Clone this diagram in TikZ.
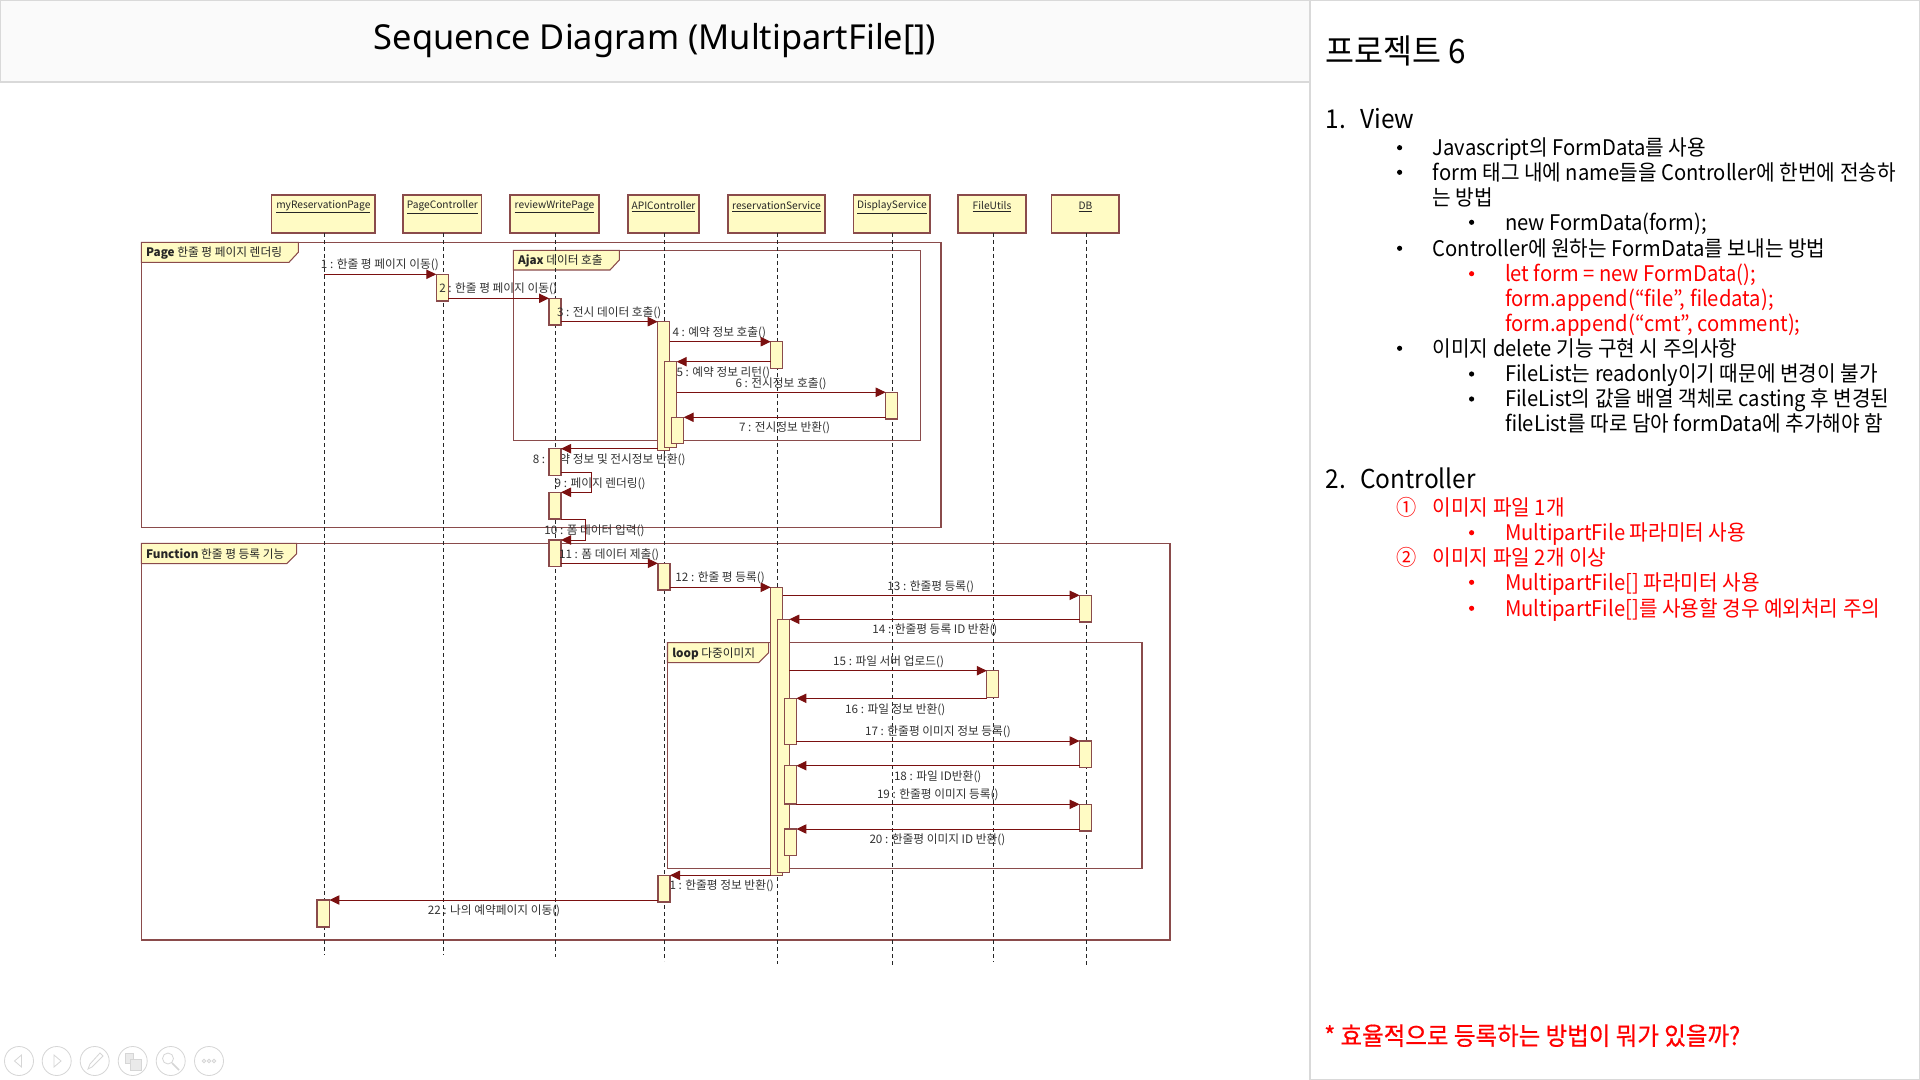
\documentclass[tikz,border=0pt]{standalone}
\usepackage{fontspec}
\usetikzlibrary{arrows.meta}
\setmainfont{Noto Sans CJK KR}
\newfontfamily\ko{Noto Sans CJK KR}
\newfontfamily\kopanel[FakeStretch=0.94]{Noto Sans CJK KR}
\newfontfamily\kofoot[FakeStretch=0.94,FakeBold=0.5]{Noto Sans CJK KR}
\newfontfamily\titlefont{Noto Sans}
\definecolor{umlborder}{HTML}{8A4B4B}
\definecolor{umlfill}{HTML}{FFFBC4}
\definecolor{msgred}{HTML}{7B1010}
\definecolor{panelgrey}{HTML}{D9D9D9}
\definecolor{iconGrey}{HTML}{D6D6D6}
\definecolor{redtext}{HTML}{FF0000}
\newcommand{\fpx}[1]{\fontsize{\fpeval{#1*0.75}}{\fpeval{#1*0.9}}\selectfont}
\newcounter{auton}
\tikzset{
  x=0.75pt,y=-0.75pt,
  headbox/.style={draw=umlborder,fill=umlfill,line width=0.9pt,inner sep=0,outer sep=0,anchor=north west},
  headtxt/.style={inner sep=0,font=\ko\fpx{10.2},text=black!85},
  lifeln/.style={draw=black!85,line width=0.75pt,dash pattern=on 3pt off 2.25pt},
  umlframe/.style={draw=umlborder,line width=0.9pt},
  tagshape/.style={draw=umlborder,fill=umlfill,line width=0.8pt},
  tagtxt/.style={inner sep=0,anchor=west,font=\ko\fpx{11.7},text=black!85},
  actbox/.style={draw=umlborder,fill=umlfill,line width=0.9pt,inner sep=0,outer sep=0,anchor=north west},
  msgln/.style={draw=msgred,line width=0.75pt,-{Triangle[length=7.5pt,width=7pt,fill=msgred]}},
  msgtxt/.style={inner sep=0,font=\ko\fpx{11.7},text=black!80},
  ptxt/.style={inner sep=0,anchor=base west},
  iconln/.style={draw=iconGrey,line width=0.6pt}
}
\newcommand{\headn}[6]{% name x1 x2 xl yend text
  \node[headbox,minimum width=(#3-#2)*0.75pt,minimum height=38*0.75pt] (h#1) at (#2,195) {};
  \node[headtxt] (ht#1) at ({(#2+#3)/2},207) {\underline{#6}};
  \coordinate (ls#1) at (#4,233);
  \coordinate (le#1) at (#4,#5);
}
\newcommand{\actn}[5]{% name x1 y1 x2 y2
  \node[actbox,minimum width=(#4-#2)*0.75pt,minimum height=(#5-#3)*0.75pt] (#1) at (#2,#3) {};
}
\newcommand{\rmsg}[3]{\draw[msgln] (#1.east |- 0,#3) -- (#2.west |- 0,#3);}
\newcommand{\lmsg}[3]{\draw[msgln] (#1.west |- 0,#3) -- (#2.east |- 0,#3);}
\newcommand{\mlab}[4]{\node[msgtxt] (#1) at ({#2},{#3+1}) {#4};}
\newcommand{\frameb}[9]{% name x y r b tagr notch tagb text
  \draw[umlframe] (#2,#3) rectangle (#4,#5);
  \draw[tagshape] (#2,#3) -- (#6,#3) -- (#6,{#8-10}) -- (#7,#8) -- (#2,#8) -- cycle;
  \node[tagtxt] (#1) at ({#2+4.5},{(#3+#8)/2+1}) {#9};
}
\newcommand{\ptx}[5]{\stepcounter{auton}\node[ptxt,font=\kopanel\fpx{#3},text=#4] (p\theauton) at (#1,{#2+#3*0.36}) {#5};}
\newcommand{\pbul}[3]{\stepcounter{auton}\fill[#3] (#1,#2) circle (2.6);}
\begin{document}
\begin{tikzpicture}
\useasboundingbox (0,0) rectangle (1920,1080);
\fill[white] (0,0) rectangle (1920,1080);
% title band and panel
\draw[fill=white!98!black,draw=panelgrey,line width=0.9pt] (0,0) rectangle (1310,82);
\node[inner sep=0,font=\titlefont\fpx{34.4}] (title) at (655,40.5) {Sequence Diagram (MultipartFile[])};
\draw[fill=white,draw=panelgrey,line width=1.3pt] (1310,0) rectangle (1919.5,1079.5);
% frames
\frameb{tpage}{141.3}{242.3}{941}{527.7}{298.3}{289}{262.3}{\textbf{Page} 한줄 평 페이지 렌더링}
\frameb{tajax}{513.3}{250.3}{920.3}{440.7}{619.3}{610}{270}{\textbf{Ajax} 데이터 호출}
\frameb{tfunc}{141.3}{543.3}{1170}{940}{296.7}{286.7}{563.7}{\textbf{Function} 한줄 평 등록 기능}
\frameb{tloop}{667.5}{642.7}{1142}{868.7}{768.6}{758.6}{662.7}{\textbf{loop} 다중이미지}
% heads
\headn{my}{271.7}{375}{324.3}{955}{myReservationPage}
\headn{pc}{403}{481.7}{443}{955}{PageController}
\headn{rw}{510}{599}{555.7}{957}{reviewWritePage}
\headn{ap}{628}{699}{664.7}{961}{APIController}
\headn{rs}{728}{825}{777.6}{964}{reservationService}
\headn{ds}{853.7}{930}{892.4}{967}{DisplayService}
\headn{fu}{958}{1026}{993.4}{962}{FileUtils}
\headn{db}{1051.7}{1119}{1086.4}{967}{DB}
\foreach \n in {my,pc,rw,ap,rs,ds,fu,db} \draw[lifeln] (ls\n) -- (le\n);
% messages, in time order: each label, then the box it points at
\mlab{m1}{(320.7+439)/2}{264}{1 : 한줄 평 페이지 이동()}
\draw[msgln] (lsmy |- 0,274.3) -- (436.3,274.3) coordinate (c1);
\actn{a2}{436.3}{274.3}{448.3}{301}
\mlab{m2}{(438.7+557.7)/2}{288}{2 : 한줄 평 페이지 이동()}
\actn{a3}{549}{298.3}{561}{325}
\rmsg{a2}{a3}{298.3}
\mlab{m3}{(556.7+661.7)/2}{311.7}{3 : 전시 데이터 호출()}
\actn{a4}{657.7}{321.7}{669.7}{450.7}
\rmsg{a3}{a4}{321.7}
\mlab{m4}{(672+766.7)/2}{331.7}{4 : 예약 정보 호출()}
\actn{a5}{770.7}{341.7}{782.7}{368.3}
\rmsg{a4}{a5}{341.7}
\actn{a6}{664.7}{361.7}{676.7}{447.7}
\lmsg{a5}{a6}{361.7}
\mlab{m5}{(676+770.7)/2}{371.7}{5 : 예약 정보 리턴()}
\mlab{m6}{(735+827)/2}{382.3}{6 : 전시정보 호출()}
\actn{a7}{885.7}{392.3}{897.3}{419}
\rmsg{a6}{a7}{392.3}
\actn{a8}{671.7}{417.3}{683.7}{443.7}
\lmsg{a7}{a8}{417.3}
\mlab{m7}{(739+830)/2}{427}{7 : 전시정보 반환()}
\mlab{m8}{(531.7+686.7)/2}{458.3}{8 : 예약 정보 및 전시정보 반환()}
\actn{a9}{549}{448.7}{561}{475.3}
\lmsg{a4}{a9}{448.7}
\mlab{m9}{(554.3+646)/2}{482.5}{9 : 페이지 렌더링()}
\actn{a10}{549}{492.3}{561}{519}
\draw[msgln] (a9.east |- 0,472.3) -- (591.7,472.3) -- (591.7,492.3) -- (a10.east |- 0,492.3);
\mlab{m10}{(545+644)/2}{530}{10 : 폼 데이터 입력()}
\actn{a11}{549}{540}{561}{566.7}
\draw[msgln] (a10.east |- 0,519.3) -- (585.7,519.3) -- (585.7,540) -- (a11.east |- 0,540);
\mlab{m11}{(559.3+659)/2}{553.3}{11 : 폼 데이터 제출()}
\actn{a12}{657.9}{563.3}{670}{590}
\rmsg{a11}{a12}{563.3}
\mlab{m12}{(675.7+764.6)/2}{577.3}{12 : 한줄 평 등록()}
\actn{a13}{770.7}{587.3}{782.5}{875.3}
\rmsg{a12}{a13}{587.3}
\mlab{m13}{(887.9+973.6)/2}{585.7}{13 : 한줄평 등록()}
\actn{a14}{1079.6}{595.3}{1091.4}{622}
\rmsg{a13}{a14}{595.3}
\actn{a15}{777.5}{619.3}{789.3}{872.3}
\lmsg{a14}{a15}{619.3}
\mlab{m14}{(872.9+997)/2}{629}{14 : 한줄평 등록 ID 반환()}
\mlab{m15}{(833.2+944)/2}{660.7}{15 : 파일 서버 업로드()}
\actn{a16}{986.8}{670.7}{998.2}{697.3}
\rmsg{a15}{a16}{670.7}
\actn{a17}{784.6}{698.3}{796.4}{744.3}
\lmsg{a16}{a17}{698.3}
\mlab{m16}{(845.4+945)/2}{708.3}{16 : 파일 정보 반환()}
\mlab{m17}{(865+1011)/2}{731}{17 : 한줄평 이미지 정보 등록()}
\actn{a18}{1079.6}{741}{1091.4}{767.3}
\rmsg{a17}{a18}{741}
\actn{a19}{784.6}{765.7}{796.4}{804}
\lmsg{a18}{a19}{765.7}
\mlab{m18}{(895+980.4)/2}{775.7}{18 : 파일 ID반환()}
\mlab{m19}{(877+998.6)/2}{794.3}{19 : 한줄평 이미지 등록()}
\actn{a20}{1079.6}{804.3}{1091.4}{831}
\rmsg{a19}{a20}{804.3}
\actn{a21}{784.6}{829}{796.4}{855.3}
\lmsg{a20}{a21}{829}
\mlab{m20}{(869.3+1005.4)/2}{839}{20 : 한줄평 이미지 ID 반환()}
\mlab{m21}{(661+776)/2}{885}{21 : 한줄평 정보 반환()}
\actn{a22}{657.9}{875.3}{670}{902}
\lmsg{a13}{a22}{875.3}
\mlab{m22}{(426+562)/2}{910}{22 : 나의 예약페이지 이동()}
\actn{a23}{317}{900}{329.4}{927}
\lmsg{a22}{a23}{900}
% right panel
\ptx{1325}{51.5}{33.5}{black}{프로젝트 6}
\ptx{1325.7}{119}{26}{black}{1.}
\ptx{1360}{119}{26}{black}{View}
\pbul{1399.6}{147.7}{black}
\ptx{1432.5}{147.7}{21.5}{black}{Javascript의 FormData를 사용}
\pbul{1399.6}{172.3}{black}
\ptx{1432.5}{172.3}{21.5}{black}{form 태그 내에 name들을 Controller에 한번에 전송하}
\ptx{1432.5}{197.3}{21.5}{black}{는 방법}
\pbul{1471.6}{222.3}{black}
\ptx{1504.8}{222.3}{21.5}{black}{new FormData(form);}
\pbul{1399.6}{248.3}{black}
\ptx{1432.5}{248.3}{21.5}{black}{Controller에 원하는 FormData를 보내는 방법}
\pbul{1471.6}{273.7}{redtext}
\ptx{1504.8}{273.7}{21.5}{redtext}{let form = new FormData();}
\ptx{1504.8}{298.3}{21.5}{redtext}{form.append(“file”, filedata);}
\ptx{1504.8}{323.7}{21.5}{redtext}{form.append(“cmt”, comment);}
\pbul{1399.6}{348.3}{black}
\ptx{1432.5}{348.3}{21.5}{black}{이미지 delete 기능 구현 시 주의사항}
\pbul{1471.6}{374}{black}
\ptx{1504.8}{374}{21.5}{black}{FileList는 readonly이기 때문에 변경이 불가}
\pbul{1471.6}{399}{black}
\ptx{1504.8}{399}{21.5}{black}{FileList의 값을 배열 객체로 casting 후 변경된}
\ptx{1504.8}{424}{21.5}{black}{fileList를 따로 담아 formData에 추가해야 함}
\ptx{1325.7}{479.3}{26}{black}{2.}
\ptx{1360}{479.3}{26}{black}{Controller}
\ptx{1396}{507.3}{21.5}{redtext}{①}
\ptx{1432.5}{507.3}{21.5}{redtext}{이미지 파일 1개}
\pbul{1471.6}{532.7}{redtext}
\ptx{1504.8}{532.7}{21.5}{redtext}{MultipartFile 파라미터 사용}
\ptx{1396}{557.3}{21.5}{redtext}{②}
\ptx{1432.5}{557.3}{21.5}{redtext}{이미지 파일 2개 이상}
\pbul{1471.6}{582.3}{redtext}
\ptx{1504.8}{582.3}{21.5}{redtext}{MultipartFile[] 파라미터 사용}
\pbul{1471.6}{608.3}{redtext}
\ptx{1504.8}{608.3}{21.5}{redtext}{MultipartFile[]를 사용할 경우 예외처리 주의}
\stepcounter{auton}\node[ptxt,font=\kofoot\fpx{25},text=redtext] (pfoot) at (1324,1045) {* 효율적으로 등록하는 방법이 뭐가 있을까?};
% toolbar icons
\foreach \cx in {19,56.7,94.7,132.7,170.7,209} \draw[iconln] (\cx,1061) circle (14.5);
\draw[iconln] (21.5,1055) -- (14.5,1061) -- (21.5,1067) -- cycle;
\draw[iconln] (54,1055) -- (61,1061) -- (54,1067) -- cycle;
\draw[iconln] (88,1069) -- (90,1064) -- (100,1053) -- (103,1056) -- (92,1067) -- cycle;
\draw[iconln,fill=iconGrey!50] (125,1053) rectangle (133,1063);
\draw[iconln,fill=iconGrey!50] (130,1059) rectangle (141,1070);
\draw[iconln] (168,1058.5) circle (5.5);
\draw[iconln,line width=1.2pt] (172,1063) -- (179,1070);
\foreach \dx in {-5,0,5} \draw[iconln] (209+\dx,1061) circle (1.8);
\end{tikzpicture}
\end{document}
